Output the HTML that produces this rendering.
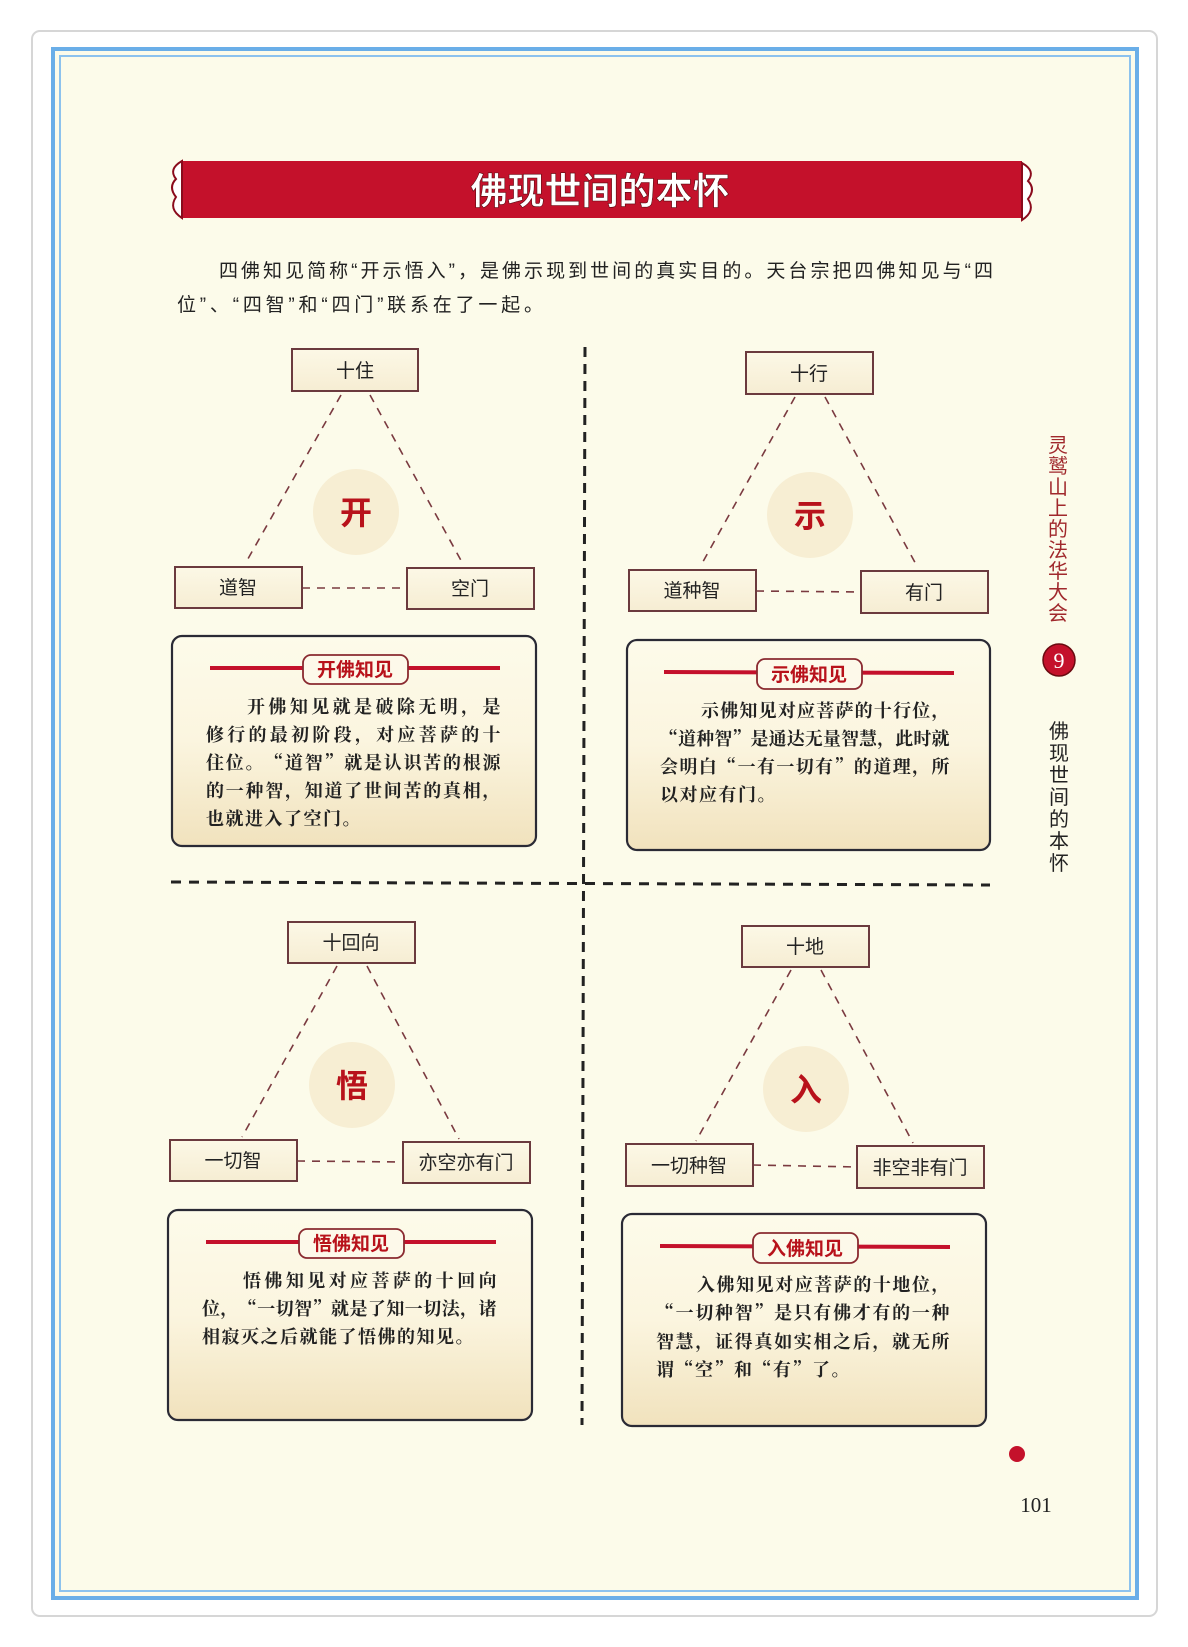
<!DOCTYPE html>
<html><head><meta charset="utf-8"><style>
html,body{margin:0;padding:0;background:#fff}
svg{display:block}
.n{font-family:"Liberation Sans","Noto Sans CJK SC",sans-serif;font-size:19px;fill:#222;text-anchor:middle}
.c{font-family:"Noto Sans CJK SC",sans-serif;font-weight:bold;font-size:32px;fill:#b8121b;text-anchor:middle}
.t{font-family:"Noto Serif CJK SC",serif;font-weight:bold;font-size:18px;fill:#222;letter-spacing:1.5px}
.h{font-family:"Noto Sans CJK SC",sans-serif;font-weight:bold;font-size:19px;fill:#b8121b;text-anchor:middle}
.s{font-family:"Noto Sans CJK SC",sans-serif;font-size:20px;text-anchor:middle}
</style></head><body>
<svg width="1188" height="1647" viewBox="0 0 1188 1647" xmlns="http://www.w3.org/2000/svg">
<defs>
<linearGradient id="g" x1="0" y1="0" x2="0" y2="1"><stop offset="0" stop-color="#fdfbea"/><stop offset="0.5" stop-color="#fbf5df"/><stop offset="1" stop-color="#f1e2bd"/></linearGradient>
<linearGradient id="bx" x1="0" y1="0" x2="0" y2="1"><stop offset="0" stop-color="#fcf8e6"/><stop offset="1" stop-color="#f6edd3"/></linearGradient>
</defs>
<rect width="1188" height="1647" fill="#fff"/>
<rect x="32" y="31" width="1125" height="1585" rx="8" fill="#fff" stroke="#d6d6d6" stroke-width="2"/>
<rect x="53" y="49" width="1084" height="1549" fill="#fcfbea" stroke="#6aaee8" stroke-width="4"/>
<rect x="60" y="56" width="1070" height="1535" fill="none" stroke="#8cc2ee" stroke-width="2"/>
<rect x="182" y="161" width="840" height="57" fill="#c4112b"/>
<path d="M182 161 q-14 8 -6 18 q-8 8 0 18 q-8 12 6 21 z" fill="#fff" stroke="#8a0b1c" stroke-width="2"/>
<path d="M1022 163 q14 8 6 18 q8 8 0 18 q8 12 -6 21 z" fill="#fff" stroke="#8a0b1c" stroke-width="2"/>
<text x="600" y="204" font-family="Noto Sans CJK SC,sans-serif" font-weight="bold" font-size="37" fill="#fff" text-anchor="middle" stroke="#5a0a10" stroke-width="0.6">佛现世间的本怀</text>
<text x="219" y="277" font-family="Liberation Sans,Noto Sans CJK SC,sans-serif" font-size="19" fill="#222" textLength="774">四佛知见简称“开示悟入”，是佛示现到世间的真实目的。天台宗把四佛知见与“四</text>
<text x="177" y="311" font-family="Liberation Sans,Noto Sans CJK SC,sans-serif" font-size="19" fill="#222" textLength="366">位”、“四智”和“四门”联系在了一起。</text>
<line x1="585" y1="347" x2="582" y2="1425" stroke="#222" stroke-width="3" stroke-dasharray="10 7"/>
<line x1="171" y1="882" x2="990" y2="885" stroke="#222" stroke-width="3" stroke-dasharray="10 8"/>

<g stroke="#7a3a40" stroke-width="1.6" stroke-dasharray="8 7" fill="none">
<line x1="341" y1="395" x2="245" y2="564"/><line x1="370" y1="395" x2="463" y2="564"/><line x1="302" y1="588" x2="407" y2="588"/>
<line x1="795" y1="397" x2="700" y2="567"/><line x1="825" y1="397" x2="918" y2="568"/><line x1="756" y1="591" x2="861" y2="592"/>
<line x1="337" y1="966" x2="242" y2="1137"/><line x1="367" y1="966" x2="459" y2="1139"/><line x1="297" y1="1161" x2="403" y2="1162"/>
<line x1="791" y1="970" x2="696" y2="1141"/><line x1="821" y1="970" x2="913" y2="1143"/><line x1="753" y1="1165" x2="857" y2="1167"/>
</g>
<g fill="#f7eed3">
<circle cx="356" cy="512" r="43"/><circle cx="810" cy="515" r="43"/><circle cx="352" cy="1085" r="43"/><circle cx="806" cy="1089" r="43"/>
</g>
<text class="c" x="356" y="524">开</text><text class="c" x="810" y="527">示</text><text class="c" x="352" y="1097">悟</text><text class="c" x="806" y="1101">入</text>
<g fill="url(#bx)" stroke="#6b3a3e" stroke-width="2">
<rect x="292" y="349" width="126" height="42"/><rect x="746" y="352" width="127" height="42"/>
<rect x="175" y="567" width="127" height="41"/><rect x="407" y="568" width="127" height="41"/>
<rect x="629" y="570" width="127" height="41"/><rect x="861" y="571" width="127" height="42"/>
<rect x="288" y="922" width="127" height="41"/><rect x="742" y="926" width="127" height="41"/>
<rect x="170" y="1140" width="127" height="41"/><rect x="403" y="1142" width="127" height="41"/>
<rect x="626" y="1144" width="127" height="42"/><rect x="857" y="1146" width="127" height="42"/>
</g>
<text class="n" x="355" y="377">十住</text><text class="n" x="809" y="380">十行</text>
<text class="n" x="238" y="594">道智</text><text class="n" x="470" y="595">空门</text>
<text class="n" x="692" y="597">道种智</text><text class="n" x="924" y="599">有门</text>
<text class="n" x="351" y="949">十回向</text><text class="n" x="805" y="953">十地</text>
<text class="n" x="233" y="1167">一切智</text><text class="n" x="466" y="1169">亦空亦有门</text>
<text class="n" x="689" y="1172">一切种智</text><text class="n" x="920" y="1174">非空非有门</text>

<g fill="url(#g)" stroke="#2a2a35" stroke-width="2.2">
<rect x="172" y="636" width="364" height="210" rx="10"/>
<rect x="627" y="640" width="363" height="210" rx="10"/>
<rect x="168" y="1210" width="364" height="210" rx="10"/>
<rect x="622" y="1214" width="364" height="212" rx="10"/>
</g>
<g stroke="#c4112b" stroke-width="4">
<line x1="210" y1="668" x2="500" y2="668"/><line x1="664" y1="672" x2="954" y2="673"/>
<line x1="206" y1="1242" x2="496" y2="1242"/><line x1="660" y1="1246" x2="950" y2="1247"/>
</g>
<g fill="#fdf9ea" stroke="#8a2a30" stroke-width="1.8">
<rect x="303" y="655" width="105" height="29" rx="8"/><rect x="757" y="659" width="105" height="30" rx="8"/>
<rect x="299" y="1229" width="105" height="29" rx="8"/><rect x="753" y="1233" width="105" height="30" rx="8"/>
</g>
<text class="h" x="355" y="676">开佛知见</text><text class="h" x="809" y="681">示佛知见</text>
<text class="h" x="351" y="1250">悟佛知见</text><text class="h" x="805" y="1255">入佛知见</text>

<text class="t" x="247" y="713" textLength="255">开佛知见就是破除无明，是</text>
<text class="t" x="206" y="741" textLength="296">修行的最初阶段，对应菩萨的十</text>
<text class="t" x="206" y="769" textLength="296">住位。“道智”就是认识苦的根源</text>
<text class="t" x="206" y="797" textLength="296">的一种智，知道了世间苦的真相，</text>
<text class="t" x="206" y="825">也就进入了空门。</text>

<text class="t" x="701" y="717" textLength="250">示佛知见对应菩萨的十行位，</text>
<text class="t" x="660" y="745" textLength="291">“道种智”是通达无量智慧，此时就</text>
<text class="t" x="660" y="773" textLength="291">会明白“一有一切有”的道理，所</text>
<text class="t" x="660" y="801">以对应有门。</text>

<text class="t" x="243" y="1287" textLength="255">悟佛知见对应菩萨的十回向</text>
<text class="t" x="202" y="1315" textLength="296">位，“一切智”就是了知一切法，诸</text>
<text class="t" x="202" y="1343">相寂灭之后就能了悟佛的知见。</text>

<text class="t" x="697" y="1291" textLength="254">入佛知见对应菩萨的十地位，</text>
<text class="t" x="656" y="1319" textLength="295">“一切种智”是只有佛才有的一种</text>
<text class="t" x="656" y="1348" textLength="295">智慧，证得真如实相之后，就无所</text>
<text class="t" x="656" y="1376">谓“空”和“有”了。</text>

<g class="s" fill="#a0282c">
<text x="1058" y="452">灵</text><text x="1058" y="473">鹫</text><text x="1058" y="494">山</text><text x="1058" y="515">上</text><text x="1058" y="536">的</text><text x="1058" y="557">法</text><text x="1058" y="578">华</text><text x="1058" y="599">大</text><text x="1058" y="620">会</text>
</g>
<circle cx="1059" cy="660" r="16" fill="#c4112b" stroke="#6a0a10" stroke-width="1.5"/>
<text x="1059" y="668" font-family="Liberation Serif,serif" font-size="22" fill="#fff" text-anchor="middle">9</text>
<g class="s" fill="#222">
<text x="1059" y="738">佛</text><text x="1059" y="760">现</text><text x="1059" y="782">世</text><text x="1059" y="804">间</text><text x="1059" y="826">的</text><text x="1059" y="848">本</text><text x="1059" y="870">怀</text>
</g>
<circle cx="1017" cy="1454" r="8" fill="#c4112b"/>
<text x="1036" y="1512" font-family="Liberation Serif,serif" font-size="21" fill="#222" text-anchor="middle">101</text>
</svg>
</body></html>
